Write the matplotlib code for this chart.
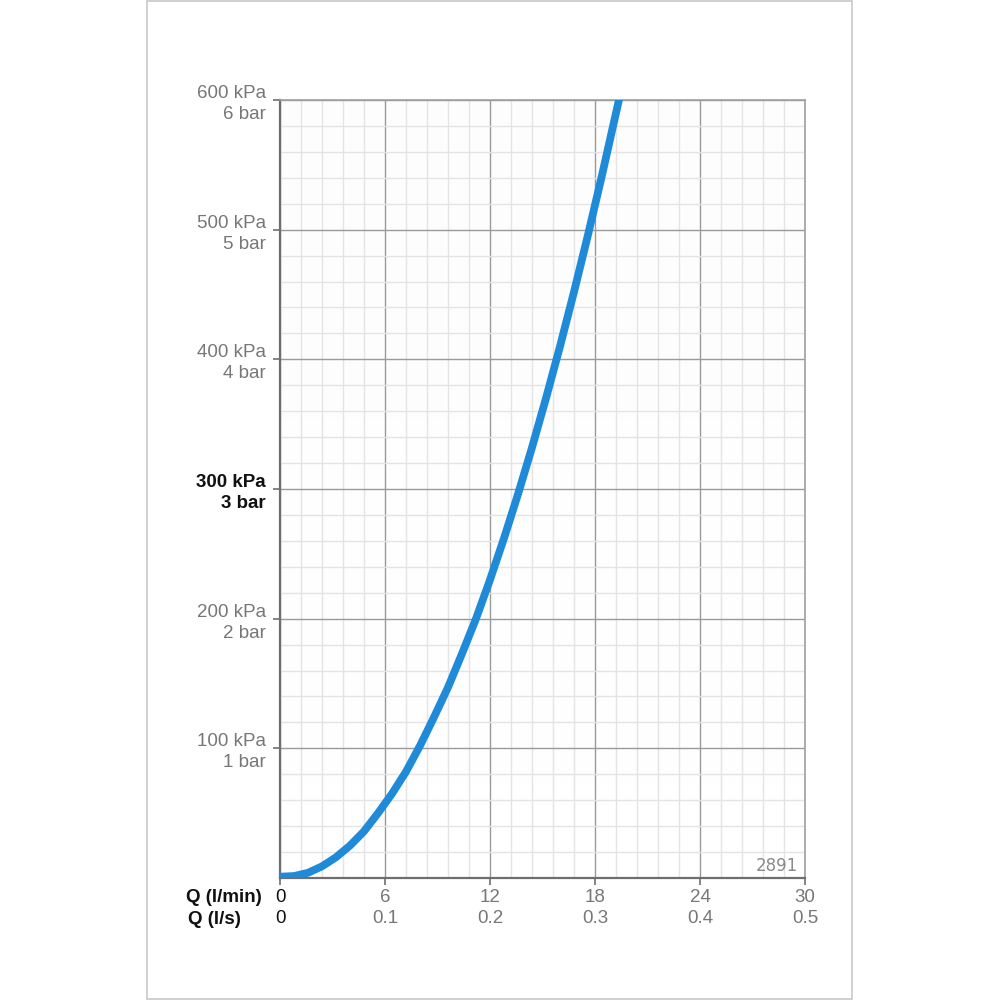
import numpy as np
import matplotlib.pyplot as plt
import matplotlib.transforms as mtransforms
from matplotlib.ticker import MultipleLocator
from matplotlib.patches import Rectangle

plt.rcParams['font.family'] = ['Liberation Sans', 'DejaVu Sans']

# flow Q (l/min) vs pressure drop (kPa)
flow_lpm = [0, 0.8, 1.6, 2.4, 3.2, 4.0, 4.8, 5.6, 6.4, 7.2, 8.0, 8.8, 9.6,
            10.4, 11.2, 12.0, 12.8, 13.6, 14.4, 15.2, 16.0, 16.8, 17.6,
            18.4, 19.2, 19.5]
pressure_kpa = [1, 1.5, 4, 9, 16, 25, 36, 50, 65, 82, 102, 124, 147,
                173, 200, 230, 262, 296, 332, 370, 410, 452, 496,
                542, 590, 608]

x_ticks = [0, 6, 12, 18, 24, 30]
x_labels = ["0\n0", "6\n0.1", "12\n0.2", "18\n0.3", "24\n0.4", "30\n0.5"]
y_ticks = [100, 200, 300, 400, 500, 600]
y_labels = ["100 kPa\n1 bar", "200 kPa\n2 bar", "300 kPa\n3 bar",
            "400 kPa\n4 bar", "500 kPa\n5 bar", "600 kPa\n6 bar"]

grey = '#777777'

fig = plt.figure(figsize=(10, 10), dpi=100)
fig.patch.set_facecolor('white')

# page frame
fig.patches.append(Rectangle((0.147, 0.001), 0.705, 0.998, transform=fig.transFigure,
                             fill=False, edgecolor='#c8c8c8', linewidth=1.2))

ax = fig.add_axes([0.28, 0.122, 0.525, 0.778])
ax.set_xlim(0, 30)
ax.set_ylim(0, 600)

# faint grey wash towards the bottom
grad = np.linspace(1.0, 0.0, 100).reshape(-1, 1)
ax.imshow(grad, extent=(0, 30, 0, 600), aspect='auto', cmap='Greys',
          vmin=0, vmax=30, zorder=0, alpha=0.5, origin='upper')

ax.xaxis.set_minor_locator(MultipleLocator(1.2))
ax.yaxis.set_minor_locator(MultipleLocator(20))
ax.set_axisbelow(True)
ax.grid(which='minor', color='#e4e4e4', linewidth=1.0)
ax.grid(which='major', color='#9a9a9a', linewidth=1.0)

ax.plot(flow_lpm, pressure_kpa, color='#1f8ad8', linewidth=5.6,
        solid_capstyle='butt', solid_joinstyle='round', zorder=3)

for s in ['top', 'right']:
    ax.spines[s].set_color('#a0a0a0')
    ax.spines[s].set_linewidth(1.2)
for s in ['left', 'bottom']:
    ax.spines[s].set_color('#6e6e6e')
    ax.spines[s].set_linewidth(1.6)

ax.set_xticks(x_ticks)
ax.set_xticklabels(x_labels, fontsize=13.5, color=grey, linespacing=1.3)
ax.set_yticks(y_ticks)
ax.set_yticklabels(y_labels, fontsize=13.5, color=grey, linespacing=1.3,
                   ha='right', va='center')
ax.tick_params(which='major', direction='out', length=5, width=1.2,
               color='#6e6e6e', pad=3)
ax.tick_params(axis='y', pad=5)
ax.tick_params(which='minor', length=0)

# nudge the two-line y labels down a little
shift = mtransforms.ScaledTranslation(0, -4 / 100, fig.dpi_scale_trans)
for lab in ax.get_yticklabels():
    lab.set_transform(lab.get_transform() + shift)
ax.get_xticklabels()[0].set_color('#111111')
ylab = ax.get_yticklabels()[2]
ylab.set_color('#111111')
ylab.set_fontweight('bold')

fig.text(0.186, 0.103, "Q (l/min)", fontsize=13.5, fontweight='bold',
         color='#111111', ha='left', va='center')
fig.text(0.188, 0.081, "Q (l/s)", fontsize=13.5, fontweight='bold',
         color='#111111', ha='left', va='center')

ax.text(29.6, 2, "2891", fontsize=12, color='#8a8a8a', ha='right', va='bottom',
        family=['DejaVu Sans'])

fig.savefig('out.png', dpi=100, facecolor='white')
